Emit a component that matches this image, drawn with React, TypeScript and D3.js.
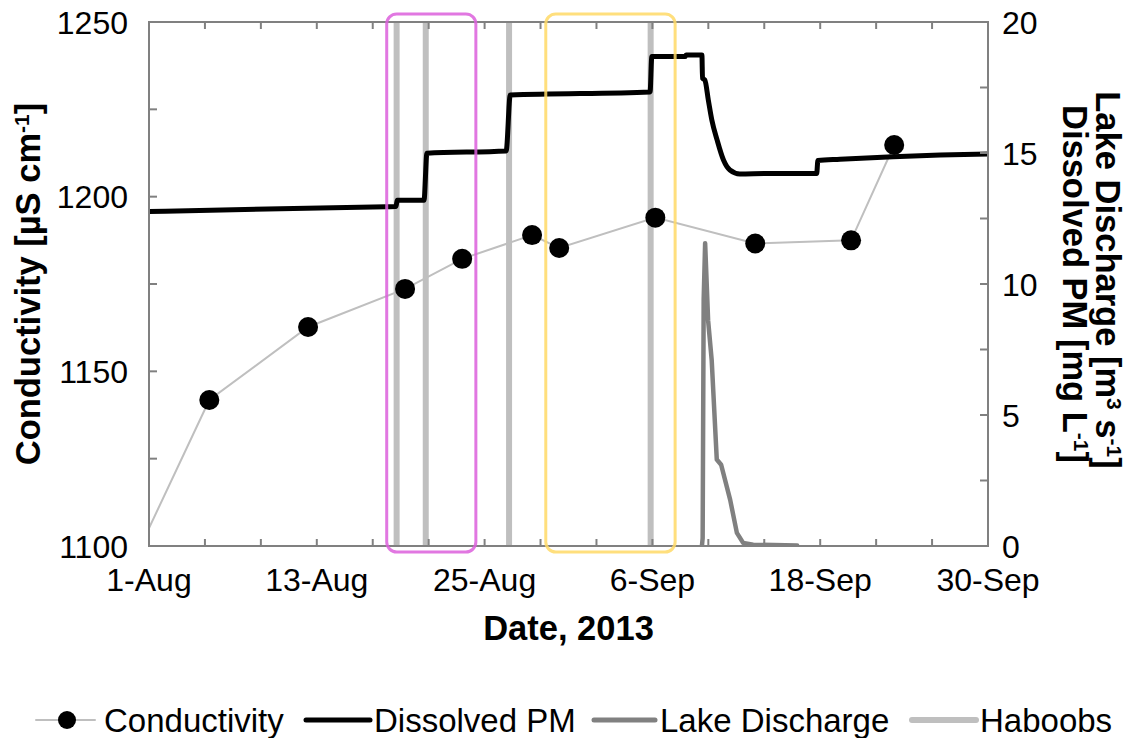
import React, { useRef, useEffect } from 'react';
import * as d3 from 'd3';

const parseTime = d3.timeParse('%Y-%m-%dT%H:%M');

// conductivity samples (left axis, µS/cm); first point lies before 1-Aug and gets clipped
const condDates = [
  '2013-07-31T00:00', '2013-08-05T07:30', '2013-08-12T09:00', '2013-08-19T07:30',
  '2013-08-23T09:30', '2013-08-28T09:30', '2013-08-30T08:00', '2013-09-06T05:00',
  '2013-09-13T08:30', '2013-09-20T05:00', '2013-09-23T07:00',
];
const condValues = [1096.6, 1141.8, 1162.7, 1173.6, 1182.2, 1189.0, 1185.3, 1194.0, 1186.6, 1187.5, 1214.8];

// dissolved PM (right axis, mg/L)
const pmDates = [
  '2013-08-01T00:00', '2013-08-17T23:00', '2013-08-18T16:00', '2013-08-18T18:00',
  '2013-08-20T16:00', '2013-08-20T21:00', '2013-08-26T13:00', '2013-08-26T20:00',
  '2013-09-05T20:00', '2013-09-05T23:00', '2013-09-08T08:00', '2013-09-08T10:00',
  '2013-09-09T13:00', '2013-09-09T14:00', '2013-09-09T18:00', '2013-09-10T00:00',
  '2013-09-10T06:00', '2013-09-10T15:00', '2013-09-11T02:00', '2013-09-11T13:00',
  '2013-09-12T06:00', '2013-09-14T05:00', '2013-09-17T18:00', '2013-09-17T20:00',
  '2013-09-19T10:00', '2013-09-23T05:00', '2013-09-26T14:00', '2013-09-30T00:00',
];
const pmValues = [
  12.77, 12.95, 12.96, 13.2, 13.2, 14.99, 15.08, 17.21, 17.33, 18.68, 18.68, 18.74,
  18.74, 17.85, 17.79, 17.02, 16.26, 15.5, 14.73, 14.35, 14.2, 14.22, 14.22, 14.71,
  14.76, 14.86, 14.92, 14.96,
];

// lake discharge (right axis, m3/s)
const lakeDates = [
  '2013-09-09T13:00', '2013-09-09T14:15', '2013-09-09T16:00', '2013-09-09T18:30',
  '2013-09-09T23:40', '2013-09-10T05:45', '2013-09-10T14:30', '2013-09-10T22:00',
  '2013-09-11T13:30', '2013-09-12T01:00', '2013-09-12T11:45', '2013-09-13T05:00',
  '2013-09-16T08:30',
];
const lakeValues = [0, 0.3, 9.4, 11.56, 8.6, 7.1, 3.3, 3.1, 1.76, 0.5, 0.12, 0.05, 0.02];

const haboobDates = ['2013-08-18T17:00', '2013-08-20T19:00', '2013-08-26T18:00', '2013-09-05T21:00'];

const boxStarts = ['2013-08-18T00:00', '2013-08-29T09:00'];
const boxEnds = ['2013-08-24T09:00', '2013-09-07T15:00'];
const boxColors = ['#dc5fdc', '#ffd966'];

const xLabelDays = [0, 12, 24, 36, 48, 60];
const leftTicks = [1100, 1150, 1200, 1250];
const rightTicks = [0, 5, 10, 15, 20];

const legendNames = ['Conductivity', 'Dissolved PM', 'Lake Discharge', 'Haboobs'];

const W = 1133;
const H = 738;
const FONT = '"Liberation Sans", Arial, sans-serif';

const App: React.FC = () => {
  const svgRef = useRef<SVGSVGElement | null>(null);

  useEffect(() => {
    const svg = d3.select(svgRef.current);
    svg.selectAll('*').remove();

    const left = 149, right = 988, top = 22, bottom = 546;
    const start = parseTime('2013-08-01T00:00') as Date;
    const end = parseTime('2013-09-30T00:00') as Date;

    const x = d3.scaleTime().domain([start, end]).range([left, right]);
    const yL = d3.scaleLinear().domain([1100, 1250]).range([bottom, top]);
    const yR = d3.scaleLinear().domain([0, 20]).range([bottom, top]);

    svg.append('defs').append('clipPath').attr('id', 'plotclip')
      .append('rect').attr('x', left).attr('y', top)
      .attr('width', right - left).attr('height', bottom - top);

    const plot = svg.append('g').attr('clip-path', 'url(#plotclip)');

    // haboobs
    plot.selectAll('.hab').data(haboobDates).enter().append('line')
      .attr('x1', d => x(parseTime(d) as Date)).attr('x2', d => x(parseTime(d) as Date))
      .attr('y1', top).attr('y2', bottom)
      .attr('stroke', '#bfbfbf').attr('stroke-width', 6);

    // conductivity
    const cond = condDates.map((d, i) => ({ t: parseTime(d) as Date, v: condValues[i] }));
    const condLine = d3.line<{ t: Date; v: number }>().x(d => x(d.t)).y(d => yL(d.v));
    plot.append('path').datum(cond).attr('d', condLine)
      .attr('fill', 'none').attr('stroke', '#bfbfbf').attr('stroke-width', 2);

    // dissolved PM
    const pm = pmDates.map((d, i) => ({ t: parseTime(d) as Date, v: pmValues[i] }));
    const pmLine = d3.line<{ t: Date; v: number }>().x(d => x(d.t)).y(d => yR(d.v))
      .curve(d3.curveMonotoneX);
    plot.append('path').datum(pm).attr('d', pmLine)
      .attr('fill', 'none').attr('stroke', '#000').attr('stroke-width', 5)
      .attr('stroke-linejoin', 'round');

    // lake discharge
    const lake = lakeDates.map((d, i) => ({ t: parseTime(d) as Date, v: lakeValues[i] }));
    const lakeLine = d3.line<{ t: Date; v: number }>().x(d => x(d.t)).y(d => yR(d.v));
    plot.append('path').datum(lake).attr('d', lakeLine)
      .attr('fill', 'none').attr('stroke', '#808080').attr('stroke-width', 4.5)
      .attr('stroke-linejoin', 'round').attr('stroke-linecap', 'round');

    plot.selectAll('.cm').data(cond).enter().append('circle')
      .attr('cx', d => x(d.t)).attr('cy', d => yL(d.v)).attr('r', 10).attr('fill', '#000');

    // frame and ticks
    const axisColor = '#808080';
    svg.append('rect').attr('x', left).attr('y', top)
      .attr('width', right - left).attr('height', bottom - top)
      .attr('fill', 'none').attr('stroke', axisColor).attr('stroke-width', 2);

    const xTicks = d3.range(0, 61, 4).map(d => d3.timeDay.offset(start, d));
    const tg = svg.append('g').attr('stroke', axisColor).attr('stroke-width', 2);
    xTicks.forEach(t => {
      tg.append('line').attr('x1', x(t)).attr('x2', x(t)).attr('y1', bottom).attr('y2', bottom - 7);
      tg.append('line').attr('x1', x(t)).attr('x2', x(t)).attr('y1', top).attr('y2', top + 7);
    });
    d3.range(1100, 1251, 25).forEach(v => {
      tg.append('line').attr('x1', left).attr('x2', left + 8).attr('y1', yL(v)).attr('y2', yL(v));
    });
    d3.range(0, 20.01, 2.5).forEach(v => {
      tg.append('line').attr('x1', right).attr('x2', right - 8).attr('y1', yR(v)).attr('y2', yR(v));
    });

    const fmt = d3.timeFormat('%-d-%b');
    const txt = svg.append('g').attr('font-family', FONT).attr('fill', '#000');
    xLabelDays.forEach(d => {
      const t = d3.timeDay.offset(start, d);
      txt.append('text').attr('x', x(t)).attr('y', 591).attr('text-anchor', 'middle')
        .attr('font-size', 32).text(fmt(t));
    });
    leftTicks.forEach(v => {
      txt.append('text').attr('x', 128).attr('y', yL(v)).attr('dy', '0.36em')
        .attr('text-anchor', 'end').attr('font-size', 32).text(v);
    });
    rightTicks.forEach(v => {
      txt.append('text').attr('x', 1002).attr('y', yR(v)).attr('dy', '0.36em')
        .attr('text-anchor', 'start').attr('font-size', 32).text(v);
    });

    const titleSize = 34.5;
    txt.append('text').attr('x', (left + right) / 2).attr('y', 640).attr('text-anchor', 'middle')
      .attr('font-size', titleSize).attr('font-weight', 'bold').text('Date, 2013');

    const lt = txt.append('text').attr('transform', `translate(40,${(top + bottom) / 2}) rotate(-90)`)
      .attr('text-anchor', 'middle').attr('font-size', titleSize).attr('font-weight', 'bold');
    lt.append('tspan').text('Conductivity [µS cm');
    lt.append('tspan').attr('baseline-shift', 'super').attr('font-size', 21).text('-1');
    lt.append('tspan').text(']');

    const r1 = txt.append('text').attr('transform', `translate(1096,${(top + bottom) / 2 - 4}) rotate(90)`)
      .attr('text-anchor', 'middle').attr('font-size', titleSize).attr('font-weight', 'bold');
    r1.append('tspan').text('Lake Discharge [m');
    r1.append('tspan').attr('baseline-shift', 'super').attr('font-size', 21).text('3');
    r1.append('tspan').text(' s');
    r1.append('tspan').attr('baseline-shift', 'super').attr('font-size', 21).text('-1');
    r1.append('tspan').text(']');

    const r2 = txt.append('text').attr('transform', `translate(1063,${(top + bottom) / 2}) rotate(90)`)
      .attr('text-anchor', 'middle').attr('font-size', titleSize).attr('font-weight', 'bold');
    r2.append('tspan').text('Dissolved PM [mg L');
    r2.append('tspan').attr('baseline-shift', 'super').attr('font-size', 21).text('-1');
    r2.append('tspan').text(']');

    // highlight boxes
    boxStarts.forEach((s, i) => {
      const x0 = x(parseTime(s) as Date);
      const x1 = x(parseTime(boxEnds[i]) as Date);
      svg.append('rect').attr('x', x0).attr('y', 14).attr('width', x1 - x0).attr('height', 538)
        .attr('rx', 10).attr('fill', 'none').attr('stroke', boxColors[i]).attr('stroke-width', 3)
        .attr('opacity', 0.85);
    });

    // legend
    const ly = 720;
    const lg = svg.append('g');
    const items = [
      { x0: 36, x1: 95, color: '#bfbfbf', w: 2, textX: 104 },
      { x0: 306, x1: 370, color: '#000', w: 5, textX: 374 },
      { x0: 594, x1: 655, color: '#808080', w: 5, textX: 660 },
      { x0: 912, x1: 976, color: '#bfbfbf', w: 6, textX: 980 },
    ];
    items.forEach((it, i) => {
      lg.append('line').attr('x1', it.x0).attr('x2', it.x1).attr('y1', ly).attr('y2', ly)
        .attr('stroke', it.color).attr('stroke-width', it.w).attr('stroke-linecap', 'round');
      if (i === 0) lg.append('circle').attr('cx', 67).attr('cy', ly).attr('r', 9).attr('fill', '#000');
      lg.append('text').attr('x', it.textX).attr('y', ly).attr('dy', '0.36em')
        .attr('font-family', FONT).attr('font-size', 33).text(legendNames[i]);
    });
  }, []);

  return (
    <svg ref={svgRef} width={W} height={H}
      style={{ position: 'absolute', left: 0, top: 0, background: '#fff' }} />
  );
};

export default App;
